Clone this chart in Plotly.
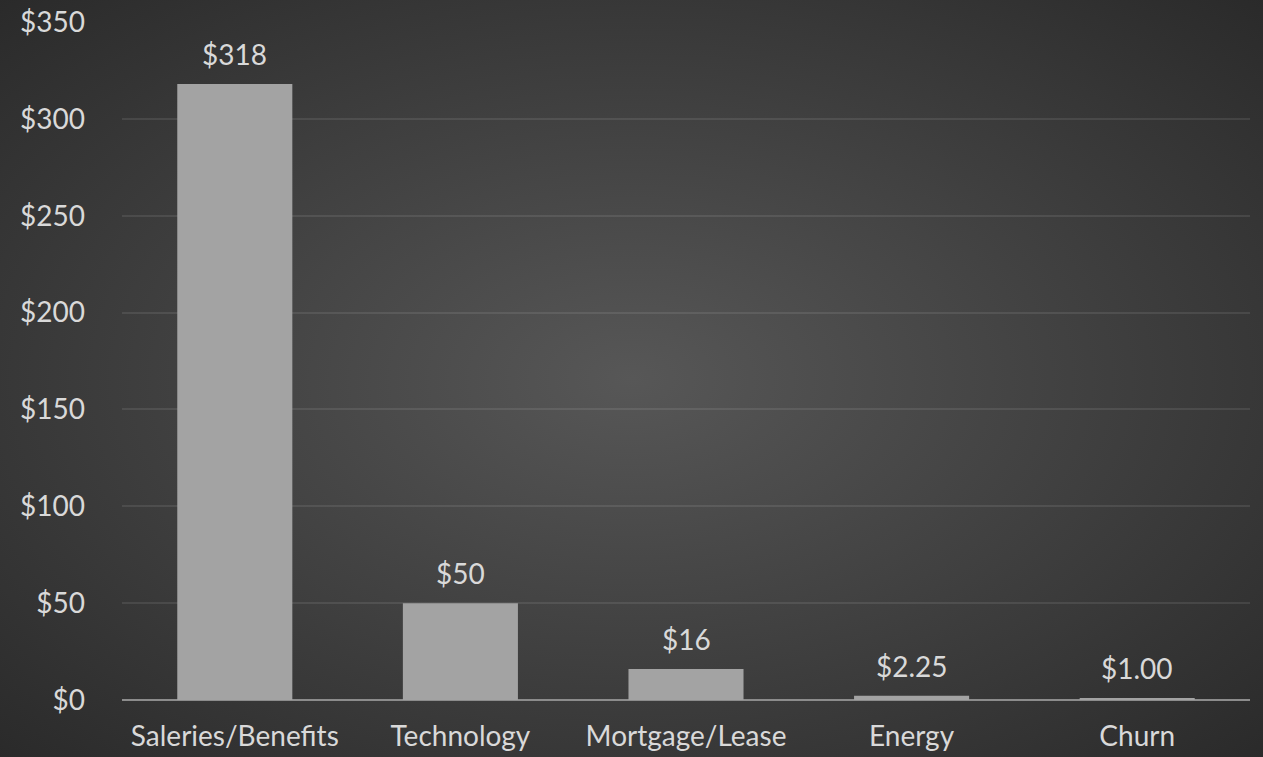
import base64
import plotly.graph_objects as go

categories = ["Saleries/Benefits", "Technology", "Mortgage/Lease", "Energy", "Churn"]
values = [318, 50, 16, 2.25, 1.00]
value_labels = ["$318", "$50", "$16", "$2.25", "$1.00"]
tick_vals = [0, 50, 100, 150, 200, 250, 300, 350]
tick_text = ["$0", "$50", "$100", "$150", "$200", "$250", "$300", "$350"]

W, H = 1263, 757
FONT = "Lato"
FS = 28
TXT = "#d9d9d9"

svg = f'''<svg xmlns="http://www.w3.org/2000/svg" width="{W}" height="{H}" preserveAspectRatio="none">
<defs><radialGradient id="g" cx="50%" cy="50%" r="71%" gradientUnits="objectBoundingBox">
<stop offset="0%" stop-color="#575757"/><stop offset="100%" stop-color="#2a2a2a"/></radialGradient></defs>
<rect width="{W}" height="{H}" fill="url(#g)"/></svg>'''
bg_src = "data:image/svg+xml;base64," + base64.b64encode(svg.encode()).decode()

fig = go.Figure()
fig.add_trace(go.Bar(
    x=categories, y=values,
    marker=dict(color="#a3a3a3", line=dict(width=0)),
    hoverinfo="skip",
))

for c, v, t in zip(categories, values, value_labels):
    fig.add_annotation(x=c, y=v, text=t, showarrow=False, yanchor="bottom",
                       yshift=11, font=dict(family=FONT, size=FS, color=TXT))

fig.update_layout(
    width=W, height=H,
    margin=dict(l=0, r=0, t=0, b=0),
    paper_bgcolor="#3a3a3a",
    plot_bgcolor="rgba(0,0,0,0)",
    bargap=0.49,
    showlegend=False,
    font=dict(family=FONT, size=FS, color=TXT),
    images=[dict(source=bg_src, xref="paper", yref="paper", x=0, y=1,
                 sizex=1, sizey=1, xanchor="left", yanchor="top",
                 sizing="stretch", layer="below")],
    xaxis=dict(domain=[122 / W, 1250 / W], showgrid=False, zeroline=False,
               showline=False, ticks="", tickfont=dict(family=FONT, size=28, color=TXT),
               ticklabelstandoff=17, automargin=False),
    yaxis=dict(domain=[(H - 700) / H, (H - 22) / H], range=[0, 350],
               tickvals=tick_vals, ticktext=tick_text,
               showgrid=True, gridcolor="rgba(255,255,255,0.09)", gridwidth=1.5,
               zeroline=True, zerolinecolor="#8c8c8c", zerolinewidth=2,
               showline=False, ticks="", ticklabelstandoff=36,
               tickfont=dict(family=FONT, size=FS, color=TXT), automargin=False),
)

fig.write_html("out.html", config={"displayModeBar": False},
               post_script="document.body.style.margin='0';document.body.style.overflow='hidden';")
